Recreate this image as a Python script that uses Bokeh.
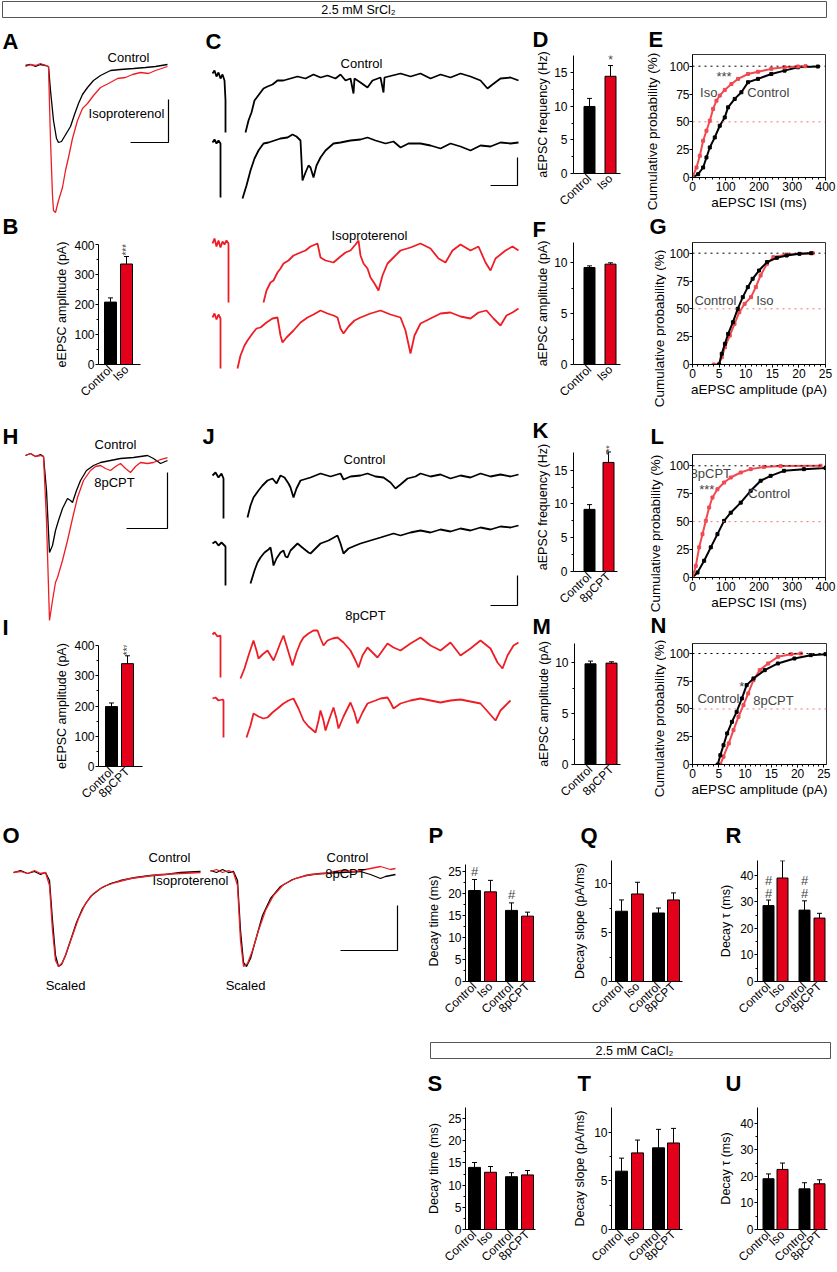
import numpy as np
from math import pi
from bokeh.plotting import figure
from bokeh.models import Range1d, FixedTicker, Label, Span, Spacer
from bokeh.layouts import column, row
from bokeh.embed import file_html
from bokeh.resources import INLINE
from bokeh.core.properties import value

FONT = "Liberation Sans"
BAR_RED = "#e2001a"
TRACE_RED = "#ee1d25"
CDF_RED = "#f04a50"
NA = float("nan")

# ======================= DATA =======================
# --- A: evoked EPSCs (time ms, current pA rel. baseline)
a_t_ctrl = [0, 5, 10, 15, 20, 23, 25, 28, 31, 33, 36, 39, 42, 45, 49, 53, 57, 62, 68, 75, 85, 95, 108, 120, 130, 142]
a_i_ctrl = [0, 1, -1, 1, 0, -1, -25, -55, -73, -77, -76, -71, -66, -61, -49, -38, -29, -22, -15, -10, -5, -4, -3, -2, -1, 1]
a_t_iso = [0, 5, 10, 15, 20, 23, 25, 27, 28, 30, 33, 37, 40, 43, 47, 52, 57, 62, 68, 75, 83, 92, 100, 107, 115, 123, 130, 142]
a_i_iso = [-1, 1, 0, 2, 0, -1, -75, -130, -145, -147, -135, -122, -105, -92, -73, -55, -43, -38, -30, -22, -18, -13, -12, -9, -7, -8, -5, -1]

# --- H: evoked EPSCs control vs 8pCPT
h_t_ctrl = [0, 5, 10, 15, 18, 21, 24, 27, 30, 33, 37, 42, 45, 47, 51, 55, 61, 68, 75, 85, 95, 108, 122, 128, 135, 142]
h_i_ctrl = [0, 2, -1, 1, -1, -35, -97, -90, -75, -65, -53, -43, -45, -47, -35, -25, -15, -10, -7, -5, -3, -2, 0, -3, -8, -5]
h_t_cpt = [0, 5, 10, 15, 18, 21, 24, 27, 30, 32, 37, 42, 47, 52, 58, 65, 70, 75, 80, 85, 90, 95, 100, 105, 110, 115, 122, 128, 135, 142]
h_i_cpt = [0, 2, -1, 0, -1, -65, -165, -145, -127, -122, -105, -85, -63, -42, -25, -15, -11, -10, -13, -15, -11, -8, -13, -17, -11, -7, -8, -7, -4, -2]

# --- C: asynchronous EPSC sweeps (Sr2+), control and isoproterenol
c_t_ctrl1 = [0, 2, 4, 6, 8, 10, 12, 13, 13, NA,
             33, 36, 39, 42, 45, 48, 51, 55, 60, 65, 71, 78, 85, 93, 101, 108, 115, 123, 128, 133, 138, 141, 142, 148, 155,
             160, 168, 171, 172, 180, 188, 198, 208, 218, 228, 238, 248, 258, 268, 275, 280, 288, 298, 306]
c_i_ctrl1 = [2, 5, -1, 3, -3, 1, -5, -25, -57, NA,
             -57, -45, -37, -25, -21, -17, -13, -11, -9, -5, -5, -3, -1, -3, 1, -2, 0, -3, 1, -5, -3, -18, -3, -7, -12,
             -5, -2, -17, -2, 0, 2, -1, 2, -3, 1, -2, 2, -1, -5, -13, -9, -3, -2, -5]
c_t_ctrl2 = [0, 2, 4, 6, 8, 8, NA,
             30, 34, 38, 42, 46, 51, 56, 62, 68, 75, 80, 84, 88, 90, 93, 96, 98, 101, 104, 108, 113, 121, 128, 138, 148,
             155, 163, 173, 181, 188, 196, 208, 218, 228, 238, 248, 258, 268, 278, 288, 298, 306]
c_i_ctrl2 = [0, 3, -1, 2, -1, -55, NA,
             -56, -43, -28, -16, -8, -1, 0, 2, 4, 5, 8, 6, 2, -38, -30, -23, -25, -35, -23, -15, -8, -1, 0, 2, 3,
             5, 2, -1, 1, -5, -1, -1, -3, -6, -1, -4, -8, -3, -4, 0, -1, 0]
c_t_iso1 = [0, 2, 4, 6, 8, 10, 12, 14, 16, 16, NA,
            51, 54, 58, 61, 65, 68, 71, 76, 81, 88, 93, 98, 105, 108, 113, 121, 128, 133, 138, 143, 146, 148, 151, 155,
            158, 162, 166, 170, 175, 180, 188, 198, 208, 218, 226, 233, 240, 248, 258, 266, 273, 278, 283, 293, 300, 306]
c_i_iso1 = [2, 7, -1, 5, -2, 4, 1, 5, 2, -57, NA,
            -57, -45, -37, -35, -27, -23, -18, -15, -10, -7, -5, -1, 2, -12, -15, -17, -11, -7, -5, 1, 5, -10, -18, -23,
            -32, -38, -45, -30, -18, -13, -5, -2, 2, -3, -13, -17, -5, 1, -5, -1, -17, -25, -13, -5, -1, -5]
c_t_iso2 = [0, 2, 4, 6, 8, 8, NA,
            25, 28, 32, 35, 40, 44, 48, 54, 60, 65, 68, 70, 74, 81, 88, 95, 101, 108, 115, 121, 125, 128, 131, 136, 142,
            148, 158, 168, 178, 188, 193, 198, 202, 208, 218, 228, 238, 248, 258, 266, 274, 281, 288, 294, 300, 306]
c_i_iso2 = [0, 4, -2, 3, -1, -51, NA,
            -51, -38, -28, -23, -16, -11, -10, -5, -1, 0, -18, -25, -20, -13, -5, 0, 3, 7, 4, 2, 0, -11, -16, -9, -3,
            0, 4, 7, 3, 0, -13, -36, -18, -6, -1, 4, 5, 1, -1, 5, 7, -1, -8, 2, 5, 9]

# --- J: asynchronous EPSC sweeps, control and 8pCPT
j_t_ctrl1 = [0, 3, 6, 9, 11, 11, NA,
             35, 38, 41, 46, 50, 55, 60, 64, 68, 72, 76, 78, 81, 84, 88, 98, 108, 118, 128, 131, 138, 148, 155, 163, 171,
             178, 183, 188, 195, 203, 208, 218, 228, 238, 248, 258, 268, 278, 288, 298, 306]
j_i_ctrl1 = [0, 3, -2, 2, -3, -43, NA,
             -42, -30, -22, -15, -10, -5, -3, -8, 0, -2, -8, -12, -22, -13, -5, -2, 2, -1, 2, -4, -1, 0, 2, -1, -2,
             -7, -13, -9, -3, -1, 2, -1, 1, -3, 0, -2, 2, -1, 1, -1, 1]
j_t_ctrl2 = [0, 3, 6, 9, 13, 13, NA,
             38, 42, 45, 48, 52, 56, 58, 60, 61, 64, 68, 71, 73, 75, 78, 82, 85, 91, 96, 98, 103, 108, 116, 125, 128, 131,
             136, 143, 148, 158, 168, 181, 188, 198, 208, 218, 228, 238, 248, 258, 268, 278, 288, 298, 306]
j_i_ctrl2 = [0, 2, -2, 1, -3, -42, NA,
             -40, -27, -19, -14, -9, -6, -4, -15, -22, -15, -9, -7, -13, -14, -7, -3, 0, -5, -9, -10, -5, 0, 3, 8, 0, -10,
             -5, -2, 0, 3, 6, 10, 8, 11, 13, 11, 14, 12, 15, 13, 16, 14, 17, 16, 18]
j_t_cpt1 = [0, 2, 5, 8, 8, NA,
            28, 32, 36, 41, 44, 46, 50, 55, 58, 61, 65, 68, 71, 74, 77, 80, 84, 88, 91, 96, 101, 105, 108, 111, 115, 120,
            125, 131, 138, 143, 146, 150, 155, 160, 165, 170, 175, 181, 188, 198, 208, 218, 228, 238, 248, 258, 268, 278,
            285, 290, 295, 301, 306]
j_i_cpt1 = [1, 3, -1, 0, -42, NA,
            -43, -33, -20, -5, -15, -23, -19, -15, -20, -25, -15, -7, 0, -10, -20, -30, -17, -7, -2, 2, 5, 5, -3, -10, -5,
            -3, -2, -7, -15, -25, -32, -20, -12, -17, -22, -15, -8, -12, -15, -8, -2, -10, -15, -7, -20, -13, -5, -13,
            -27, -33, -20, -10, -7]
j_t_cpt2 = [0, 3, 6, 10, 11, 11, NA,
            34, 38, 41, 46, 51, 55, 60, 65, 71, 76, 81, 86, 91, 96, 103, 106, 108, 111, 113, 117, 121, 124, 126, 131, 138,
            142, 145, 150, 155, 163, 168, 175, 178, 181, 188, 198, 208, 218, 228, 238, 248, 258, 268, 276, 283, 288, 293,
            298]
j_i_cpt2 = [0, 1, -2, -1, -2, -39, NA,
            -39, -27, -15, -18, -20, -19, -14, -10, -5, -2, 0, -10, -22, -28, -34, -22, -12, -22, -32, -20, -9, -20, -30,
            -18, -4, -14, -25, -14, -5, -2, 0, 1, -4, -10, -5, -2, 0, -2, -4, -2, -1, -3, -5, -14, -22, -12, -7, -2]

# --- O: scaled evoked EPSCs
o_t_ctrl1 = [0, 7, 14, 21, 27, 32, 36, 39, 42, 45, 48, 52, 57, 63, 69, 77, 87, 97, 107, 122, 137, 152, 167, 187]
o_i_ctrl1 = [0, 2, -1, 1, -2, 0, -8, -48, -83, -94, -92, -83, -68, -50, -36, -24, -16, -11, -8, -5, -3, -2, 0, 1]
o_t_iso = [0, 7, 14, 21, 27, 32, 36, 39, 42, 45, 49, 53, 59, 65, 72, 80, 90, 102, 117, 132, 147, 167, 187]
o_i_iso = [0, 1, -1, 2, -1, 0, -13, -58, -88, -94, -90, -80, -63, -46, -31, -21, -14, -10, -6, -4, -2, -1, 0]
o_t_ctrl2 = [0, 6, 12, 18, 23, 27, 30, 33, 36, 40, 45, 52, 60, 70, 82, 95, 110, 130, 150, 160, 170, 175, 185]
o_i_ctrl2 = [0, -2, 1, -2, -1, -10, -60, -92, -96, -88, -70, -45, -28, -16, -9, -5, -3, -2, -1, -4, -8, -6, -4]
o_t_cpt = [0, 6, 12, 18, 23, 27, 30, 33, 37, 42, 48, 55, 63, 73, 85, 100, 115, 130, 145, 160, 170, 180, 185]
o_i_cpt = [-1, 1, -2, 0, -2, -15, -70, -96, -93, -80, -60, -40, -25, -14, -8, -4, -3, 0, -1, 2, 4, 1, 2]

# --- cumulative distributions
e_ctrl_x = [0, 17, 32, 42, 52, 67, 82, 97, 107, 127, 147, 167, 197, 237, 277, 317, 377]
e_ctrl_y = [0, 3, 9, 18, 27, 36, 46.5, 54, 63, 70.6, 76.6, 85.6, 88.6, 93, 96, 99, 99.7]
e_iso_x = [0, 12, 22, 32, 42, 52, 62, 72, 82, 97, 117, 137, 167, 197, 237, 277, 317, 340]
e_iso_y = [0, 9, 19.5, 33, 42, 51, 61.6, 69, 73.6, 78.7, 84, 88.6, 93, 95, 97.6, 99, 99.7, 100]
g_ctrl_x = [5.0, 5.5, 6.1, 6.7, 7.6, 8.5, 9.45, 10.4, 11.3, 12.5, 14.0, 15.85, 17.7, 20.1, 22.3]
g_ctrl_y = [0, 9.6, 18.6, 27.5, 38, 50, 60.5, 69.5, 77, 84.4, 92, 95.8, 97.9, 99.4, 100]
g_iso_x = [4.0, 4.9, 5.5, 6.1, 7.0, 7.9, 8.8, 9.8, 11.0, 11.9, 12.8, 14.0, 15.2, 17.7, 22.6]
g_iso_y = [0, 0, 6.6, 15.6, 26, 36.5, 47, 54.5, 60.5, 69.5, 80, 90.4, 96.4, 98.8, 100]
l_ctrl_x = [0, 15, 35, 55, 75, 95, 115, 145, 175, 205, 235, 275, 335, 400]
l_ctrl_y = [0, 4.5, 15, 27, 38.8, 50.7, 58, 67, 77.6, 86.6, 91, 95.5, 97, 98]
l_cpt_x = [0, 10, 20, 30, 40, 50, 60, 75, 95, 115, 145, 175, 215, 265, 385]
l_cpt_y = [0, 10.4, 27, 38.8, 50.7, 62.7, 71.6, 79, 85, 89.5, 94, 97, 99, 99.7, 100]
n_ctrl_x = [4.8, 5.3, 5.9, 6.6, 7.5, 8.4, 9.4, 10.3, 11.6, 13.75, 16.25, 19.4, 22.5, 25.3]
n_ctrl_y = [0, 8.4, 17.4, 28, 38.4, 47.4, 59.5, 71.5, 77.5, 85, 91, 95.5, 98.5, 99.4]
n_cpt_x = [5.3, 5.9, 6.9, 7.8, 8.75, 9.7, 10.6, 11.6, 12.8, 14.4, 16.25, 18.75, 20.6]
n_cpt_y = [0, 7, 19, 31, 43, 53.5, 64, 76, 85, 91, 97, 99.4, 100]

# --- bar charts: means and SEM
lab_iso = ["Control", "Iso"]
lab_cpt = ["Control", "8pCPT"]
lab_four = ["Control", "Iso", "Control", "8pCPT"]
b_vals, b_err = [208, 335], [14, 25]
d_vals, d_err = [10.0, 14.5], [1.2, 1.6]
f_vals, f_err = [9.54, 9.87], [0.16, 0.13]
i_vals, i_err = [198, 340], [12, 26]
k_vals, k_err = [9.2, 16.15], [0.7, 1.55]
m_vals, m_err = [9.9, 9.97], [0.27, 0.13]
p_vals, p_err = [20.6, 20.3, 16.1, 14.8], [2.5, 2.6, 1.7, 0.9]
q_vals, q_err = [7.2, 8.97, 7.02, 8.36], [1.16, 1.2, 0.51, 0.72]
r_vals, r_err = [28.6, 39.0, 26.9, 23.9], [2.1, 6.5, 3.5, 1.8]
s_vals, s_err = [14.0, 12.9, 11.9, 12.3], [1.1, 1.3, 0.9, 1.0]
t_vals, t_err = [6.0, 7.88, 8.4, 8.9], [1.34, 1.32, 1.9, 1.5]
u_vals, u_err = [19.1, 22.6, 15.3, 17.2], [1.8, 2.4, 2.3, 1.5]


# ======================= HELPERS =======================
def canvas(w, h):
    p = figure(width=w, height=h, x_range=Range1d(0, w), y_range=Range1d(h, 0),
               x_axis_location=None, y_axis_location=None, min_border=0,
               output_backend="svg", toolbar_location=None)
    p.frame_align = False
    p.grid.visible = False
    p.outline_line_color = None
    p.background_fill_color = "white"
    p.border_fill_color = "white"
    return p


def ctext(p, x, y, s, size=13, bold=False, color="black", align="center", baseline="middle", angle=0):
    p.text(x=[x], y=[y], text=[s], text_font=value(FONT), text_font_size=f"{size}px",
           text_font_style="bold" if bold else "normal", text_color=color,
           text_align=align, text_baseline=baseline, angle=angle)


def letter(p, x, y_base, s):
    # y_base: bottom of the capital letter; text drawn centred on the cap height
    ctext(p, x, y_base - 7, s, size=22, bold=True, align="left", baseline="middle")


def scalebar(p, xs, ys):
    p.line(x=xs, y=ys, line_color="black", line_width=1.2)


_sweep_id = [0]


def add_sweep(p, t, i, x0, base, color, lw=1.3, kx=1.0, ky=1.0):
    _sweep_id[0] += 1
    name = f"s{_sweep_id[0]}"
    w, h = p.width, p.height
    p.extra_x_ranges[name] = Range1d(-x0 / kx, (w - x0) / kx)
    p.extra_y_ranges[name] = Range1d(-(h - base) / ky, base / ky)
    p.line(np.asarray(t, dtype=float), np.asarray(i, dtype=float), x_range_name=name, y_range_name=name,
           line_color=color, line_width=lw)


def make_fig(w, h, left, right, top, bottom, xr, yr):
    p = figure(width=w, height=h, x_range=Range1d(*xr), y_range=Range1d(*yr),
               min_border_left=left, min_border_right=right, min_border_top=top, min_border_bottom=bottom,
               output_backend="svg", toolbar_location=None)
    p.frame_align = False
    p.xgrid.visible = False
    p.ygrid.visible = False
    p.background_fill_color = "white"
    p.border_fill_color = "white"
    return p


def style_axis(ax, size="12px"):
    ax.axis_line_color = "black"
    ax.axis_line_width = 1
    ax.major_tick_line_color = "black"
    ax.minor_tick_line_color = "black"
    ax.major_label_text_font = FONT
    ax.major_label_text_font_size = size
    ax.major_label_text_color = "black"
    ax.axis_label_text_font = FONT
    ax.axis_label_text_font_style = "normal"
    ax.axis_label_text_color = "black"
    ax.major_tick_in = 0
    ax.minor_tick_in = 0


def bar_chart(w, h, left, right, top, bottom, ymax, axis_top, centers, values, errors, labels, ylabel,
              yticks, yminor, bw=12, lab_std=1, tick_std=1, notes=()):
    fw = w - left - right
    p = make_fig(w, h, left, right, top, bottom, (0, fw), (0, ymax))
    p.outline_line_color = None
    colors = ["black", BAR_RED] * (len(values) // 2)
    p.vbar(x=centers, top=values, width=bw, bottom=0, fill_color=colors, line_color="black", line_width=1)
    tops = [v + e for v, e in zip(values, errors)]
    p.segment(x0=centers, y0=values, x1=centers, y1=tops, line_color="black", line_width=1)
    p.segment(x0=[c - 2.5 for c in centers], y0=tops, x1=[c + 2.5 for c in centers], y1=tops,
              line_color="black", line_width=1)
    xa, ya = p.xaxis[0], p.yaxis[0]
    style_axis(xa)
    style_axis(ya)
    xa.ticker = FixedTicker(ticks=centers)
    xa.major_label_overrides = {c: l for c, l in zip(centers, labels)}
    xa.major_label_orientation = 0.76
    xa.major_tick_line_color = None
    xa.minor_tick_line_color = None
    xa.major_tick_out = 0
    xa.minor_tick_out = 0
    xa.major_label_standoff = 3
    ya.bounds = (0, axis_top)
    ya.ticker = FixedTicker(ticks=yticks, minor_ticks=yminor)
    ya.major_tick_out = 3
    ya.minor_tick_out = 2
    ya.major_label_standoff = tick_std
    ya.axis_label = ylabel
    ya.axis_label_text_font_size = "12.5px"
    ya.axis_label_standoff = lab_std
    for x, y, s, size, ang in notes:
        p.add_layout(Label(x=x, y=y, text=s, text_font=FONT, text_font_size=size, angle=ang,
                           text_align="left" if ang else "center", text_baseline="middle"))
    return p


def cdf_chart(w, h, left, right, top, bottom, xmax, ymax, xticks, xminor, curves, xlabel, notes):
    p = make_fig(w, h, left, right, top, bottom, (0, xmax), (0, ymax))
    p.outline_line_color = "#333333"
    p.add_layout(Span(location=100, dimension="width", line_color="black", line_dash="dotted", line_width=1))
    p.add_layout(Span(location=50, dimension="width", line_color="#f07070", line_dash="dotted", line_width=1))
    for xs, ys, col in curves:
        p.line(xs, ys, line_color=col, line_width=2)
        p.scatter(xs, ys, marker="square", size=3, fill_color=col, line_color=col)
    xa, ya = p.xaxis[0], p.yaxis[0]
    style_axis(xa)
    style_axis(ya)
    xa.ticker = FixedTicker(ticks=xticks, minor_ticks=xminor)
    xa.major_tick_out = 3
    xa.minor_tick_out = 2
    xa.major_label_standoff = 1
    xa.axis_label = xlabel
    xa.axis_label_text_font_size = "13.5px"
    xa.axis_label_standoff = 1
    ya.ticker = FixedTicker(ticks=[0, 25, 50, 75, 100])
    ya.major_tick_out = 3
    ya.major_label_standoff = 0
    for x, y, s in notes:
        p.add_layout(Label(x=x, y=y, text=s, text_font=FONT, text_font_size="13px",
                           text_align="center", text_baseline="middle"))
    return p


# ======================= BANNER 1 =======================
banner1 = canvas(837, 19)
banner1.quad(left=[2], right=[826], top=[1], bottom=[17], fill_color="white", line_color="#555555", line_width=1)
ctext(banner1, 358, 9.5, "2.5 mM SrCl\u2082", size=12.5)

# ======================= LEFT COLUMN (A, B, H, I) =======================
figA = canvas(201, 221)
letter(figA, 2, 29, "A")
letter(figA, 2, 214, "B")
add_sweep(figA, a_t_ctrl, a_i_ctrl, 25, 46, "black")
add_sweep(figA, a_t_iso, a_i_iso, 25, 46, TRACE_RED)
ctext(figA, 128, 38, "Control")
ctext(figA, 126, 94, "Isoproterenol")
scalebar(figA, [130, 168, 168], [123, 123, 80])

chartB = bar_chart(201, 170, 98, 61, 4, 46, 400, 400, [12, 28], b_vals, b_err, lab_iso,
                   "eEPSC amplitude (pA)", [0, 100, 200, 300, 400], [50, 150, 250, 350], lab_std=2,
                   notes=[(28, 363, "***", "10px", pi / 2)])

figH = canvas(201, 230)
letter(figH, 2, 33, "H")
letter(figH, 2, 224, "I")
add_sweep(figH, h_t_ctrl, h_i_ctrl, 25, 45, "black")
add_sweep(figH, h_t_cpt, h_i_cpt, 25, 45, TRACE_RED)
ctext(figH, 115, 34, "Control")
ctext(figH, 114, 72, "8pCPT")
scalebar(figH, [126, 167, 167], [118, 118, 62])

chartI = bar_chart(201, 172, 98, 59, 5, 46, 400, 400, [13, 29], i_vals, i_err, lab_cpt,
                   "eEPSC amplitude (pA)", [0, 100, 200, 300, 400], [50, 150, 250, 350], lab_std=2,
                   notes=[(29, 368, "***", "10px", pi / 2)])

colAB = column(figA, chartB, figH, chartI)

# ======================= C / J traces =======================
figC = canvas(330, 391)
letter(figC, 4, 29, "C")
ctext(figC, 160, 44, "Control")
ctext(figC, 168, 216, "Isoproterenol")
add_sweep(figC, c_t_ctrl1, c_i_ctrl1, 11, 56, "black", lw=1.8)
add_sweep(figC, c_t_ctrl2, c_i_ctrl2, 11, 123, "black", lw=1.8)
add_sweep(figC, c_t_iso1, c_i_iso1, 11, 226, TRACE_RED, lw=1.8)
add_sweep(figC, c_t_iso2, c_i_iso2, 11, 298, TRACE_RED, lw=1.8)
scalebar(figC, [289, 316, 316], [166, 166, 138])

figJ = canvas(330, 402)
letter(figJ, 1, 33, "J")
ctext(figJ, 163, 49, "Control")
ctext(figJ, 164, 205, "8pCPT")
add_sweep(figJ, j_t_ctrl1, j_i_ctrl1, 11, 65, "black", lw=1.8)
add_sweep(figJ, j_t_ctrl2, j_i_ctrl2, 11, 133, "black", lw=1.8)
add_sweep(figJ, j_t_cpt1, j_i_cpt1, 11, 225, TRACE_RED, lw=1.8)
add_sweep(figJ, j_t_cpt2, j_i_cpt2, 11, 288, TRACE_RED, lw=1.8)
scalebar(figJ, [289, 316, 316], [195, 195, 165])

colCJ = column(figC, figJ)

# ======================= D F K M column =======================
def strip(w, h, items):
    p = canvas(w, h)
    for x, y, s in items:
        letter(p, x, y, s)
    return p


stripD = strip(105, 33, [(1, 27, "D")])
chartD = bar_chart(105, 164, 42, 16, 3, 39, 17.6, 17.6, [16, 37], d_vals, d_err, lab_iso,
                   "aEPSC frequency (Hz)", [0, 5, 10, 15], [2.5, 7.5, 12.5], bw=11, tick_std=3,
                   notes=[(37, 16.9, "*", "12px", 0)])
stripF = strip(105, 25, [(1, 19.5, "F")])
chartF = bar_chart(105, 176, 42, 16, 1, 53, 12, 12, [16, 37], f_vals, f_err, lab_iso,
                   "aEPSC amplitude (pA)", [0, 5, 10], [2.5, 7.5], bw=11, tick_std=3)
stripK = strip(105, 25, [(1, 19.5, "K")])
chartK = bar_chart(105, 172, 42, 19, 0, 37, 19.1, 17.55, [16, 35], k_vals, k_err, lab_cpt,
                   "aEPSC frequency (Hz)", [0, 5, 10, 15], [2.5, 7.5, 12.5], bw=11, tick_std=3,
                   notes=[(35, 17.2, "***", "8.5px", pi / 2)])
stripM = strip(105, 25, [(1, 19, "M")])
chartM = bar_chart(105, 173, 43, 16, 4, 48, 11.9, 11.9, [16, 37], m_vals, m_err, lab_cpt,
                   "aEPSC amplitude (pA)", [0, 5, 10], [2.5, 7.5], bw=11, tick_std=3)
colD = column(stripD, chartD, stripF, chartF, stripK, chartK, stripM, chartM)

# ======================= label column for E G L N =======================
labcol = canvas(30, 793)
letter(labcol, 12, 27, "E")
letter(labcol, 13, 214, "G")
letter(labcol, 14, 424, "L")
letter(labcol, 14, 613, "N")
for yc, xc in [(112, 16), (309, 23), (514, 19), (699, 23)]:
    ctext(labcol, xc, yc, "Cumulative probability (%)", size=13.5, angle=pi / 2)

# ======================= E G L N column =======================
chartE = cdf_chart(171, 166, 25, 12, 4, 39, 400, 110.5, [0, 100, 200, 300, 400], list(range(0, 401, 20)),
                   [(e_ctrl_x, e_ctrl_y, "black"), (e_iso_x, e_iso_y, CDF_RED)], "aEPSC ISI (ms)",
                   [(49, 76, "Iso"), (228, 76, "Control"), (95, 90.5, "***")])
chartG = cdf_chart(171, 184, 24, 12, 6, 56, 25, 109.6, [0, 5, 10, 15, 20, 25], list(range(0, 26)),
                   [(g_iso_x, g_iso_y, CDF_RED), (g_ctrl_x, g_ctrl_y, "black")], "aEPSC amplitude (pA)",
                   [(4.3, 57.5, "Control"), (13.6, 57.5, "Iso")])
chartL = cdf_chart(171, 168, 26, 12, 8, 37, 400, 110.1, [0, 100, 200, 300, 400], list(range(0, 401, 20)),
                   [(l_ctrl_x, l_ctrl_y, "black"), (l_cpt_x, l_cpt_y, CDF_RED)], "aEPSC ISI (ms)",
                   [(55, 93.5, "8pCPT"), (43, 79, "***"), (231, 75.6, "Control")])
chartN = cdf_chart(171, 176, 24, 11, 7, 48, 25.5, 109, [0, 5, 10, 15, 20, 25], list(range(0, 26)),
                   [(n_cpt_x, n_cpt_y, CDF_RED), (n_ctrl_x, n_ctrl_y, "black")], "aEPSC amplitude (pA)",
                   [(4.93, 59.5, "Control"), (15.4, 58, "8pCPT"), (9.4, 70.5, "*")])
colE = column(Spacer(width=171, height=31), chartE, Spacer(width=171, height=20), chartG,
              Spacer(width=171, height=26), chartL, Spacer(width=171, height=22), chartN)

top_block = row(colAB, colCJ, colD, labcol, colE)

# ======================= O + P Q R =======================
figO = canvas(410, 212)
letter(figO, 2, 30, "O")
add_sweep(figO, o_t_ctrl1, o_i_ctrl1, 13, 60, "black")
add_sweep(figO, o_t_iso, o_i_iso, 13, 60, TRACE_RED)
add_sweep(figO, o_t_ctrl2, o_i_ctrl2, 210, 58, "black")
add_sweep(figO, o_t_cpt, o_i_cpt, 210, 58, TRACE_RED)
ctext(figO, 169, 45, "Control")
ctext(figO, 190, 68, "Isoproterenol")
ctext(figO, 65, 173, "Scaled")
ctext(figO, 347, 45, "Control")
ctext(figO, 345, 61, "8pCPT")
ctext(figO, 245, 173, "Scaled")
scalebar(figO, [340, 397, 397], [138, 138, 93])

strip_pqr = canvas(427, 36)
letter(strip_pqr, 18, 30, "P")
letter(strip_pqr, 170, 30, "Q")
letter(strip_pqr, 315, 30, "R")

pos4_p = [9, 25, 46, 62]
pos4_q = [10, 26, 47, 62]
pos4_r = [11, 25, 47, 62]
chartP = bar_chart(150, 176, 55, 25, 12, 43, 27.4, 26.5, pos4_p, p_vals, p_err, lab_four, "Decay time (ms)",
                   [0, 5, 10, 15, 20, 25], [2.5, 7.5, 12.5, 17.5, 22.5], lab_std=4,
                   notes=[(9, 25, "#", "13px", 0), (46, 19.8, "#", "13px", 0)])
chartQ = bar_chart(145, 176, 51, 23, 12, 43, 12.4, 12.4, pos4_q, q_vals, q_err, lab_four, "Decay slope (pA/ms)",
                   [0, 5, 10], [2.5, 7.5], lab_std=4)
chartR = bar_chart(132, 176, 52, 10, 12, 43, 45.6, 45.6, pos4_r, r_vals, r_err, lab_four, "Decay \u03c4 (ms)",
                   [0, 10, 20, 30, 40], [5, 15, 25, 35], lab_std=4, bw=11,
                   notes=[(11, 38, "#", "13px", 0), (11, 33.1, "#", "13px", 0),
                          (47, 38, "#", "13px", 0), (47, 33.1, "#", "13px", 0)])

bottom1 = row(figO, column(strip_pqr, row(chartP, chartQ, chartR)))

# ======================= BANNER 2 =======================
banner2 = canvas(837, 40)
banner2.quad(left=[430], right=[830], top=[18], bottom=[34], fill_color="white", line_color="#555555", line_width=1)
ctext(banner2, 634, 26.5, "2.5 mM CaCl\u2082", size=12.5)

# ======================= S T U =======================
strip_stu = canvas(427, 32)
letter(strip_stu, 17, 26, "S")
letter(strip_stu, 167, 26, "T")
letter(strip_stu, 315, 26, "U")

chartS = bar_chart(150, 176, 55, 25, 11, 42, 27.5, 27.5, pos4_p, s_vals, s_err, lab_four, "Decay time (ms)",
                   [0, 5, 10, 15, 20, 25], [2.5, 7.5, 12.5, 17.5, 22.5], lab_std=4)
chartT = bar_chart(145, 176, 51, 23, 11, 43, 12.55, 12.55, pos4_q, t_vals, t_err, lab_four, "Decay slope (pA/ms)",
                   [0, 5, 10], [2.5, 7.5], lab_std=4)
chartU = bar_chart(132, 176, 52, 10, 11, 43, 45.9, 45.9, pos4_r, u_vals, u_err, lab_four, "Decay \u03c4 (ms)",
                   [0, 10, 20, 30, 40], [5, 15, 25, 35], lab_std=4, bw=11)

bottom2 = row(Spacer(width=410, height=208), column(strip_stu, row(chartS, chartT, chartU)))

page = column(banner1, top_block, bottom1, banner2, bottom2)

open("out.html", "w").write(file_html(page, INLINE, "Figure"))
